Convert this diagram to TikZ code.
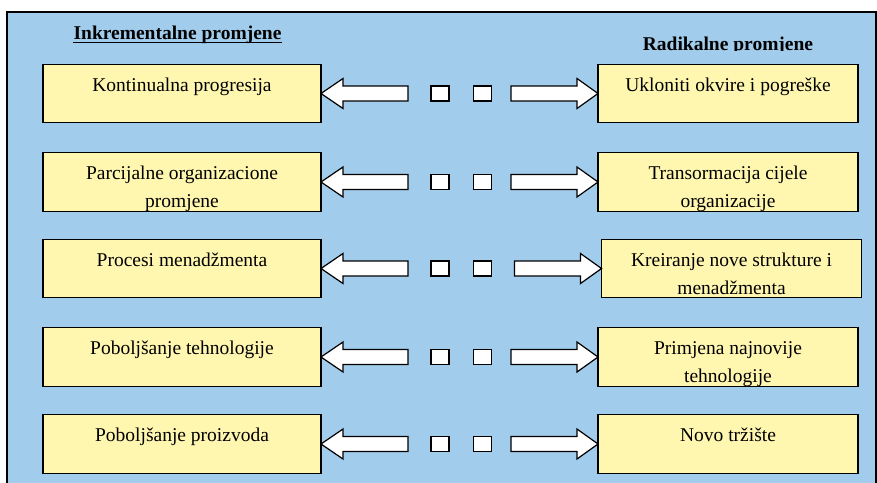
\documentclass[tikz,border=0pt]{standalone}
\usepackage{fontspec}
\setmainfont{Liberation Serif}
\usetikzlibrary{calc}
\definecolor{bgblue}{RGB}{161,204,235}
\definecolor{boxyellow}{RGB}{255,247,176}
\tikzset{
  box/.style={draw, fill=boxyellow, line width=1.2pt, minimum width=#1, minimum height=58.5pt, inner sep=0pt, outer sep=0pt},
  box/.default=278pt,
  boxtext/.style={anchor=base, inner sep=0pt, text width=250pt, align=flush center, font=\fontsize{19.5}{28}\selectfont},
  titletext/.style={anchor=base, inner sep=0pt, font=\fontsize{19.5}{24}\selectfont\bfseries},
  bigarrow/.style={draw, fill=white, line width=1.2pt, line join=miter},
  dot/.style={draw, fill=white, line width=1.2pt, minimum width=18pt, minimum height=15pt, inner sep=0pt, outer sep=0pt},
}
\newcommand\boxlabel[2]{%
  \begin{scope}
    \clip ($(#1.south west)+(1,-1)$) rectangle ($(#1.north east)+(-1,1)$);
    \node[boxtext] (#1t) at ($(#1.north)+(0,27)$) {#2};
  \end{scope}}
\newcommand\rowlinks[2]{%
  \draw[bigarrow] (#1.east) -- ++(22,-15) -- ++(0,7.5) -- ++(65,0) -- ++(0,15) -- ++(-65,0) -- ++(0,7.5) -- cycle;
  \draw[bigarrow] (#2.west) -- ++(-21,-15) -- ++(0,7.5) -- ++(-66,0) -- ++(0,15) -- ++(66,0) -- ++(0,7.5) -- cycle;
  \node[dot] (#1d1) at ($(#1.east)+(119,0)$) {};
  \node[dot] (#1d2) at ($(#1.east)+(161.5,0)$) {};}
\begin{document}
\begin{tikzpicture}[x=1pt,y=-1pt]
\useasboundingbox (0,0) rectangle (877,482);
\begin{scope}
  \clip (0,0) rectangle (877,482);
  \draw[fill=bgblue, line width=1.3pt] (7,12) rectangle (876,500);
\end{scope}

% titles
\node[titletext] (tl) at (177.5,39) {Inkrementalne promjene};
\draw[line width=1.2pt] ([yshift=-3.5pt]tl.base west) -- ([yshift=-3.5pt]tl.base east);
\begin{scope}
  \clip (600,20) rectangle (860,50.5);
  \node[titletext] (tr) at (728,50) {Radikalne promjene};
\end{scope}

% left boxes
\node[box] (L1) at (182,93.5) {};
\node[box] (L2) at (182,182) {};
\node[box] (L3) at (182,268.5) {};
\node[box] (L4) at (182,357) {};
\node[box] (L5) at (182,444) {};
% right boxes
\node[box=260pt] (R1) at (728,93.5) {};
\node[box=260pt] (R2) at (728,182) {};
\node[box=260pt] (R3) at (731.5,268.5) {};
\node[box=260pt] (R4) at (728,357) {};
\node[box=260pt] (R5) at (728,444) {};

\boxlabel{L1}{Kontinualna progresija}
\boxlabel{L2}{Parcijalne organizacione\\promjene}
\boxlabel{L3}{Procesi menadžmenta}
\boxlabel{L4}{Poboljšanje tehnologije}
\boxlabel{L5}{Poboljšanje proizvoda}
\boxlabel{R1}{Ukloniti okvire i pogreške}
\boxlabel{R2}{Transormacija cijele\\organizacije}
\boxlabel{R3}{Kreiranje nove strukture i\\menadžmenta}
\boxlabel{R4}{Primjena najnovije\\tehnologije}
\boxlabel{R5}{Novo tržište}

\rowlinks{L1}{R1}
\rowlinks{L2}{R2}
\rowlinks{L3}{R3}
\rowlinks{L4}{R4}
\rowlinks{L5}{R5}
\end{tikzpicture}
\end{document}
